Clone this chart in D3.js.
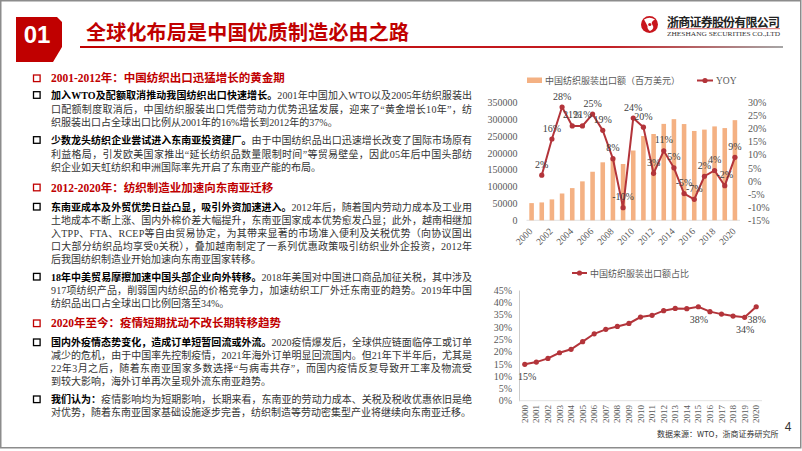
<!DOCTYPE html>
<html><head><meta charset="utf-8">
<script src="https://cdn.jsdelivr.net/npm/d3@7"></script>
<style>body{margin:0;background:#fff}svg{display:block}</style>
</head><body>
<svg id="c" width="802" height="451"></svg>
<script>
// ---------- data ----------
const years = ["2000","2001","2002","2003","2004","2005","2006","2007","2008","2009","2010","2011","2012","2013","2014","2015","2016","2017","2018","2019","2020"];
const exportValues = [51000,53000,62000,79500,95500,115500,144000,172000,185000,167000,207000,250000,256000,286000,300000,285500,265000,269000,278500,273500,297000];
const yoyValues = [null,2.2,16,28.2,21,21,25.5,19.3,8.5,-10.2,24,20.5,2.9,11.5,5,-4.8,-7,1.8,4,-1.8,9];
const yoyLabels = ["","2%","16%","28%","21%","21%","25%","19%","8%","-10%","24%","20%","3%","11%","5%","-5%","-7%","2%","4%","-2%","9%"];
const shareValues = [14.8,15.7,17.2,19.5,20.9,24.0,27.2,29.0,30.2,31.4,34.0,34.7,36.6,37.5,37.4,38.2,36.2,35.2,34.4,33.9,38.2];
const shareLabelYears = ["2000","2015","2019","2020"];
const shareLabelTexts = ["15%","38%","34%","38%"];
const leftTicks = [0,50000,100000,150000,200000,250000,300000,350000];
const rightTicks = [-15,-10,-5,0,5,10,15,20,25,30];
const shareTicks = [0,5,10,15,20,25,30,35,40,45];
const topXTickYears = ["2000","2002","2004","2006","2008","2010","2012","2014","2016","2018","2020"];

const RED = "#C00000", LINE = "#B3343A", BAR = "#F4B183", GRAY = "#595959";
const SERIF = "'Liberation Serif','Times New Roman',serif";
const CJK = "'Noto Sans CJK SC','Noto Sans',sans-serif";
const MIX = "'Liberation Serif','Noto Sans CJK SC',serif";

const svg = d3.select("#c");

// ---------- frame & header ----------
svg.append("rect").attr("x",0.75).attr("y",0.75).attr("width",800).attr("height",447)
  .attr("fill","#fff").attr("stroke","#8c8c8c").attr("stroke-width",1.5);

svg.append("path").attr("d","M16,17 L57,17 L62,22 L62,47 L53,62 L16,62 Z").attr("fill",RED);
svg.append("text").attr("x",37).attr("y",34).attr("text-anchor","middle").attr("dominant-baseline","central")
  .attr("font-family","'Liberation Sans',Arial,sans-serif").attr("font-weight","bold").attr("font-size",24)
  .attr("fill","#fff").text("01");

svg.append("text").attr("x",86).attr("y",31).attr("dominant-baseline","central")
  .attr("font-family",CJK).attr("font-weight","bold").attr("font-size",20).attr("fill",RED)
  .attr("textLength",323).attr("lengthAdjust","spacing").text("全球化布局是中国优质制造必由之路");

const defs = svg.append("defs");
const lg = defs.append("linearGradient").attr("id","ul").attr("x1","0").attr("x2","1");
lg.append("stop").attr("offset","0").attr("stop-color",RED);
lg.append("stop").attr("offset","0.75").attr("stop-color","#C41E24");
lg.append("stop").attr("offset","1").attr("stop-color","#a6a6a6");
svg.append("rect").attr("x",80).attr("y",46).attr("width",703).attr("height",2).attr("fill","url(#ul)");

// logo
svg.append("circle").attr("cx",649.5).attr("cy",24.5).attr("r",8.5).attr("fill","#C8161D");
svg.append("path").attr("d","M644,19.5 Q649.5,16 655,19.5 Q650,22 652.5,25 Q655,28.5 650,31 Q647,29 647.5,26 Q646,23 644,19.5 Z")
  .attr("fill","#fff");
svg.append("circle").attr("cx",649.8).attr("cy",24.5).attr("r",1.6).attr("fill","#C8161D");
svg.append("text").attr("x",667).attr("y",21).attr("dominant-baseline","central")
  .attr("font-family",CJK).attr("font-weight","bold").attr("font-size",12).attr("fill","#222")
  .attr("textLength",113).attr("lengthAdjust","spacing").text("浙商证券股份有限公司");
svg.append("rect").attr("x",667).attr("y",28.5).attr("width",113).attr("height",0.6).attr("fill","#C8161D");
svg.append("text").attr("x",667).attr("y",33.5).attr("dominant-baseline","central")
  .attr("font-family",SERIF).attr("font-size",6).attr("fill","#333")
  .attr("textLength",113).attr("lengthAdjust","spacingAndGlyphs").text("ZHESHANG SECURITIES CO.,LTD");

// ---------- text blocks ----------
const blocks = [
  {h:true, ys:[78.3], lines:[["2001-2012年：中国纺织出口迅猛增长的黄金期"]]},
  {ys:[95,108.7,122.3], lines:[
    ["加入WTO及配额取消推动我国纺织出口快速增长。","2001年中国加入WTO以及2005年纺织服装出"],
    ["","口配额制度取消后，中国纺织服装出口凭借劳动力优势迅猛发展，迎来了“黄金增长10年”，纺"],
    ["","织服装出口占全球出口比例从2001年的16%增长到2012年的37%。"]]},
  {ys:[140,153.5,167], lines:[
    ["少数龙头纺织企业尝试进入东南亚投资建厂。","由于中国纺织品出口迅速增长改变了国际市场原有"],
    ["","利益格局，引发欧美国家推出“延长纺织品数量限制时间”等贸易壁垒，因此05年后中国头部纺"],
    ["","织企业如天虹纺织和申洲国际率先开启了东南亚产能的布局。"]]},
  {h:true, ys:[187.5], lines:[["2012-2020年：纺织制造业加速向东南亚迁移"]]},
  {ys:[206.7,219.8,232.9,246,259.1], lines:[
    ["东南亚成本及外贸优势日益凸显，吸引外资加速进入。","2012年后，随着国内劳动力成本及工业用"],
    ["","土地成本不断上涨、国内外棉价差大幅提升，东南亚国家成本优势愈发凸显；此外，越南相继加"],
    ["","入TPP、FTA、RCEP等自由贸易协定，为其带来显著的市场准入便利及关税优势（向协议国出"],
    ["","口大部分纺织品均享受0关税），叠加越南制定了一系列优惠政策吸引纺织业外企投资，2012年"],
    ["","后我国纺织制造业开始加速向东南亚国家转移。"]]},
  {ys:[276.7,289.8,302.9], lines:[
    ["18年中美贸易摩擦加速中国头部企业向外转移。","2018年美国对中国进口商品加征关税，其中涉及"],
    ["","917项纺织产品，削弱国内纺织品的价格竞争力，加速纺织工厂外迁东南亚的趋势。2019年中国"],
    ["","纺织品出口占全球出口比例回落至34%。"]]},
  {h:true, ys:[323.3], lines:[["2020年至今：疫情短期扰动不改长期转移趋势"]]},
  {ys:[342.3,355.2,368.1,381], lines:[
    ["国内外疫情态势变化，造成订单短暂回流或外流。","2020疫情爆发后，全球供应链面临停工或订单"],
    ["","减少的危机，由于中国率先控制疫情，2021年海外订单明显回流国内。但21年下半年后，尤其是"],
    ["","22年3月之后，随着东南亚国家多数选择“与病毒共存”，而国内疫情反复导致开工率及物流受"],
    ["","到较大影响，海外订单再次呈现外流东南亚趋势。"]]},
  {ys:[399.3,412.3], lines:[
    ["我们认为：","疫情影响均为短期影响，长期来看，东南亚的劳动力成本、关税及税收优惠依旧是绝"],
    ["","对优势，随着东南亚国家基础设施逐步完善，纺织制造等劳动密集型产业将继续向东南亚迁移。"]]}
];
const TX = 51, TW = 421;
blocks.forEach(b => {
  const col = b.h ? RED : "#000";
  svg.append("rect").attr("x",33.5).attr("y",b.ys[0]-3.3).attr("width",6.6).attr("height",6.6)
    .attr("fill","none").attr("stroke",col).attr("stroke-width",1.3);
  b.lines.forEach((ln,i) => {
    const t = svg.append("text").attr("x",TX).attr("y",b.ys[i]).attr("dominant-baseline","central")
      .attr("font-family",MIX);
    if (b.h) {
      t.attr("font-size",11.5).attr("font-weight","bold").attr("fill",RED).text(ln[0]);
    } else {
      t.attr("font-size",10);
      if (ln[0]) t.append("tspan").attr("font-weight","bold").attr("fill","#000").text(ln[0]);
      t.append("tspan").attr("fill","#333").text(ln[1]);
      if (i < b.lines.length-1) t.attr("textLength",TW).attr("lengthAdjust","spacing");
    }
  });
});

// ---------- top chart ----------
const x1 = d3.scaleBand().domain(years).range([526.5,740]).paddingInner(0.55).paddingOuter(0.275);
const yL = d3.scaleLinear().domain([0,350000]).range([220.3,102.3]);
const yR = d3.scaleLinear().domain([-15,30]).range([220.3,102.3]);
const cx1 = d => x1(d) + x1.bandwidth()/2;

const gl = svg.append("g").attr("transform","translate(526.5,0)")
  .call(d3.axisLeft(yL).tickValues(leftTicks).tickSize(0).tickPadding(9).tickFormat(d3.format("d")));
gl.select(".domain").remove();
gl.selectAll("text").attr("font-family",SERIF).attr("font-size",10).attr("fill",GRAY);

const gr = svg.append("g").attr("transform","translate(740,0)")
  .call(d3.axisRight(yR).tickValues(rightTicks).tickSize(0).tickPadding(8).tickFormat(d => d + "%"));
gr.select(".domain").remove();
gr.selectAll("text").attr("font-family",SERIF).attr("font-size",10).attr("fill",GRAY);

svg.append("line").attr("x1",526.5).attr("x2",740).attr("y1",yL(0)).attr("y2",yL(0)).attr("stroke","#d9d9d9").attr("stroke-width",0.8);

svg.append("g").selectAll("rect").data(years).join("rect")
  .attr("x",d => x1(d)).attr("width",x1.bandwidth())
  .attr("y",(d,i) => yL(exportValues[i])).attr("height",(d,i) => yL(0)-yL(exportValues[i]))
  .attr("fill",BAR);

svg.append("g").selectAll("text").data(topXTickYears).join("text")
  .attr("transform",d => `translate(${cx1(d)+1.5},232) rotate(-45)`)
  .attr("text-anchor","end").attr("font-family",SERIF).attr("font-size",9.5).attr("fill",GRAY).text(d => d);

const yoyPts = years.map((y,i) => ({y, v:yoyValues[i], l:yoyLabels[i]})).filter(d => d.v !== null);
svg.append("path").datum(yoyPts)
  .attr("d",d3.line().x(d => cx1(d.y)).y(d => yR(d.v)))
  .attr("fill","none").attr("stroke",LINE).attr("stroke-width",2);
svg.append("g").selectAll("circle").data(yoyPts).join("circle")
  .attr("cx",d => cx1(d.y)).attr("cy",d => yR(d.v)).attr("r",2.6).attr("fill",LINE);
svg.append("g").selectAll("text").data(yoyPts).join("text")
  .attr("x",d => cx1(d.y)).attr("y",d => yR(d.v)-7.5).attr("text-anchor","middle")
  .attr("font-family",SERIF).attr("font-size",10).attr("fill","#404040").text(d => d.l);

// top legend
svg.append("rect").attr("x",527).attr("y",77.5).attr("width",15).attr("height",5.5).attr("fill",BAR);
svg.append("text").attr("x",545).attr("y",80.5).attr("dominant-baseline","central")
  .attr("font-family",CJK).attr("font-size",9).attr("fill",GRAY).text("中国纺织服装出口额（百万美元）");
svg.append("line").attr("x1",697).attr("x2",713).attr("y1",80.5).attr("y2",80.5).attr("stroke",LINE).attr("stroke-width",2);
svg.append("circle").attr("cx",705).attr("cy",80.5).attr("r",2.6).attr("fill",LINE);
svg.append("text").attr("x",716).attr("y",80.5).attr("dominant-baseline","central")
  .attr("font-family",SERIF).attr("font-size",9.5).attr("fill",GRAY).text("YOY");

// ---------- bottom chart ----------
const x2 = d3.scalePoint().domain(years).range([519,762]).padding(0.5);
const y2 = d3.scaleLinear().domain([0,45]).range([400.7,290]);

const gb = svg.append("g").attr("transform","translate(519,0)")
  .call(d3.axisLeft(y2).tickValues(shareTicks).tickSize(0).tickPadding(7).tickFormat(d => d + "%"));
gb.select(".domain").attr("stroke","#bfbfbf").attr("stroke-width",0.8);
gb.selectAll("text").attr("font-family",SERIF).attr("font-size",10).attr("fill",GRAY);
svg.append("line").attr("x1",519).attr("x2",762).attr("y1",y2(0)).attr("y2",y2(0)).attr("stroke","#d9d9d9").attr("stroke-width",0.8);

svg.append("g").selectAll("text").data(years).join("text")
  .attr("transform",d => `translate(${x2(d)+3},405) rotate(-90)`)
  .attr("text-anchor","end").attr("font-family",SERIF).attr("font-size",9).attr("fill",GRAY).text(d => d);

const sharePts = years.map((y,i) => ({y, v:shareValues[i]}));
svg.append("path").datum(sharePts)
  .attr("d",d3.line().x(d => x2(d.y)).y(d => y2(d.v)))
  .attr("fill","none").attr("stroke",LINE).attr("stroke-width",2);
svg.append("g").selectAll("circle").data(sharePts).join("circle")
  .attr("cx",d => x2(d.y)).attr("cy",d => y2(d.v)).attr("r",2.6).attr("fill",LINE);
svg.append("g").selectAll("text").data(shareLabelYears).join("text")
  .attr("x",(d,i) => x2(d) + (i===0 ? 2.5 : 0.5))
  .attr("y",d => y2(shareValues[years.indexOf(d)]) + 16)
  .attr("text-anchor","middle").attr("font-family",SERIF).attr("font-size",10).attr("fill","#404040")
  .text((d,i) => shareLabelTexts[i]);

svg.append("line").attr("x1",572).attr("x2",587).attr("y1",273).attr("y2",273).attr("stroke",LINE).attr("stroke-width",2);
svg.append("circle").attr("cx",579.5).attr("cy",273).attr("r",2.6).attr("fill",LINE);
svg.append("text").attr("x",590).attr("y",273).attr("dominant-baseline","central")
  .attr("font-family",CJK).attr("font-size",9).attr("fill",GRAY).text("中国纺织服装出口额占比");

// ---------- footer ----------
svg.append("text").attr("x",788).attr("y",427).attr("text-anchor","middle").attr("dominant-baseline","central")
  .attr("font-family","'Liberation Sans',Arial,sans-serif").attr("font-size",12).attr("fill","#333").text("4");
svg.append("text").attr("x",657).attr("y",433).attr("dominant-baseline","central")
  .attr("font-family",CJK).attr("font-size",8).attr("fill","#333").text("数据来源：WTO，浙商证券研究所");
</script>
</body></html>
